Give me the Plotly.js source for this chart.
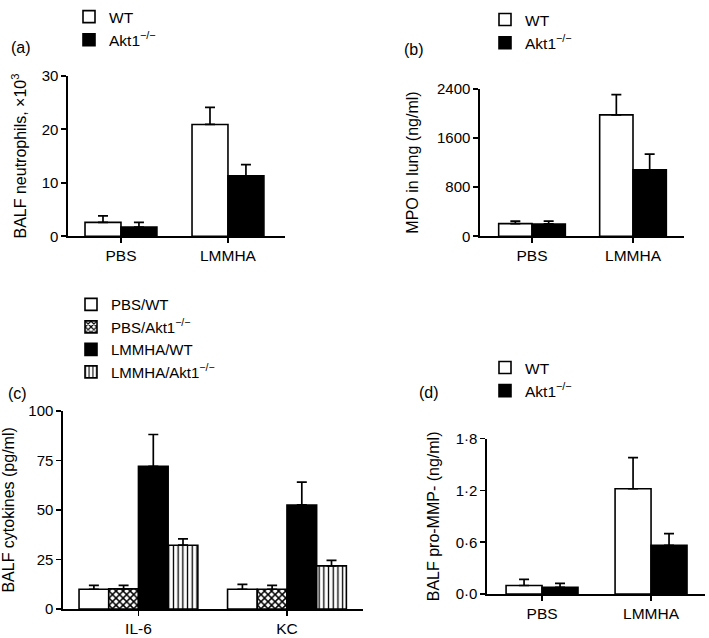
<!DOCTYPE html>
<html>
<head>
<meta charset="utf-8">
<script src="https://cdn.plot.ly/plotly-3.0.1.min.js"></script>
<style>html,body{margin:0;padding:0;background:#fff;}#chart{width:709px;height:638px;}</style>
</head>
<body>
<div id="chart"></div>
<script>
// ---- Data ----
const treatments = ["PBS", "LMMHA"];
const cytokines = ["IL-6", "KC"];

// (a) BALF neutrophils, x10^3
const neutWT = [2.6, 20.9];
const neutWTErr = [1.2, 3.2];
const neutKO = [1.7, 11.3];
const neutKOErr = [0.9, 2.1];

// (b) MPO in lung (ng/ml)
const mpoWT = [205, 1975];
const mpoWTErr = [40, 330];
const mpoKO = [200, 1080];
const mpoKOErr = [45, 255];

// (c) BALF cytokines (pg/ml)
const cytPbsWT = [10, 10];
const cytPbsWTErr = [2, 2.5];
const cytPbsKO = [10.2, 10];
const cytPbsKOErr = [1.8, 2];
const cytLmmhaWT = [72, 52.5];
const cytLmmhaWTErr = [16, 11.5];
const cytLmmhaKO = [32.2, 21.8];
const cytLmmhaKOErr = [3.2, 2.8];

// (d) BALF pro-MMP (ng/ml)
const mmpWT = [0.1, 1.22];
const mmpWTErr = [0.07, 0.36];
const mmpKO = [0.08, 0.565];
const mmpKOErr = [0.045, 0.135];

// tick labels
const tickA = [0, 10, 20, 30];
const tickB = [0, 800, 1600, 2400];
const tickC = [0, 25, 50, 75, 100];
const tickDvals = [0, 0.6, 1.2, 1.8];
const tickDtext = ["0·0", "0·6", "1·2", "1·8"];

// ---- Styling helpers ----
const FONT = "Liberation Sans, Arial, Helvetica, sans-serif";
const KO = "Akt1<sup>\u2212/\u2212</sup>";

function err(arr) {
  return {type: "data", array: arr, symmetric: false, arrayminus: arr.map(() => 0),
          color: "#000", thickness: 1.7, width: 5};
}
function bar(x, y, e, name, xa, ya, legend, offset, width, fill, pattern) {
  const marker = {color: fill, line: {color: "#000", width: 1.6}};
  if (pattern) marker.pattern = pattern;
  return {type: "bar", x: x, y: y, name: name, xaxis: xa, yaxis: ya, legend: legend,
          offset: offset, width: width, marker: marker, error_y: err(e),
          hoverinfo: "skip"};
}
const checker = {shape: "x", fgcolor: "#000", bgcolor: "#fff", size: 5, solidity: 0.5};
const vlines = {shape: "|", fgcolor: "#000", bgcolor: "#fff", size: 4.7, solidity: 0.28};

const wA = 0.336, wB = 0.33, wC = 0.2, wD = 0.33;

const data = [
  bar(treatments, neutWT, neutWTErr, "WT", "x", "y", "legend", -wA, wA, "#fff"),
  bar(treatments, neutKO, neutKOErr, KO, "x", "y", "legend", 0, wA, "#000"),
  bar(treatments, mpoWT, mpoWTErr, "WT", "x2", "y2", "legend2", -wB, wB, "#fff"),
  bar(treatments, mpoKO, mpoKOErr, KO, "x2", "y2", "legend2", 0, wB, "#000"),
  bar(cytokines, cytPbsWT, cytPbsWTErr, "PBS/WT", "x3", "y3", "legend3", -2 * wC, wC, "#fff"),
  bar(cytokines, cytPbsKO, cytPbsKOErr, "PBS/" + KO, "x3", "y3", "legend3", -wC, wC, "#fff", checker),
  bar(cytokines, cytLmmhaWT, cytLmmhaWTErr, "LMMHA/WT", "x3", "y3", "legend3", 0, wC, "#000"),
  bar(cytokines, cytLmmhaKO, cytLmmhaKOErr, "LMMHA/" + KO, "x3", "y3", "legend3", wC, wC, "#fff", vlines),
  bar(treatments, mmpWT, mmpWTErr, "WT", "x4", "y4", "legend4", -wD, wD, "#fff"),
  bar(treatments, mmpKO, mmpKOErr, KO, "x4", "y4", "legend4", 0, wD, "#000")
];

function xaxis(domain, range, anchor) {
  return {domain: domain, range: range, anchor: anchor, type: "category",
          showline: true, linecolor: "#000", linewidth: 1.6,
          ticks: "outside", ticklen: 5, tickwidth: 1.6, tickcolor: "#000",
          showgrid: false, zeroline: false, fixedrange: true,
          tickfont: {family: FONT, size: 15.5, color: "#000"}};
}
function yaxis(domain, range, anchor, vals, text, title, standoff) {
  const a = {domain: domain, range: range, anchor: anchor,
          showline: true, linecolor: "#000", linewidth: 1.6,
          ticks: "outside", ticklen: 5, tickwidth: 1.6, tickcolor: "#000",
          showgrid: false, zeroline: false, fixedrange: true,
          tickmode: "array", tickvals: vals,
          tickfont: {family: FONT, size: 15, color: "#000"},
          title: {text: title, standoff: standoff, font: {family: FONT, size: 16, color: "#000"}}};
  if (text) a.ticktext = text;
  return a;
}
function leg(x, y, size) {
  return {x: x, y: y, xanchor: "left", yanchor: "top", bgcolor: "rgba(0,0,0,0)",
          borderwidth: 0, font: {family: FONT, size: size, color: "#000"}, itemclick: false};
}
function label(t, x, y) {
  return {text: t, x: x, y: y, xref: "paper", yref: "paper", xanchor: "left", yanchor: "middle",
          showarrow: false, font: {family: FONT, size: 16, color: "#000"}};
}

const layout = {
  width: 709, height: 638,
  margin: {l: 0, r: 0, t: 0, b: 0},
  paper_bgcolor: "#fff", plot_bgcolor: "#fff",
  barmode: "overlay",
  showlegend: true,
  font: {family: FONT, color: "#000"},
  xaxis: xaxis([68 / 709, 285 / 709], [-0.495, 1.533], "y"),
  yaxis: yaxis([1 - 235 / 638, 1 - 74 / 638], [0, 30], "x", tickA, null,
               "BALF neutrophils, \u00d710<sup>3</sup>", 11),
  xaxis2: xaxis([480 / 709, 684 / 709], [-0.515, 1.505], "y2"),
  yaxis2: yaxis([1 - 235 / 638, 1 - 87 / 638], [0, 2400], "x2", tickB, null,
                "MPO in lung (ng/ml)", 14),
  xaxis3: xaxis([63 / 709, 363 / 709], [-0.508, 1.512], "y3"),
  yaxis3: yaxis([1 - 609 / 638, 1 - 410 / 638], [0, 100], "x3", tickC, null,
                "BALF cytokines (pg/ml)", 10),
  xaxis4: xaxis([487 / 709, 705 / 709], [-0.505, 1.495], "y4"),
  yaxis4: yaxis([1 - 594 / 638, 1 - 438 / 638], [0, 1.8], "x4", tickDvals, tickDtext,
                "BALF pro-MMP- (ng/ml)", 12),
  legend: leg(69 / 709, 1 + 2 / 638, 15.5),
  legend2: leg(485 / 709, 1 - 1 / 638, 15.5),
  legend3: leg(71 / 709, 1 - 287 / 638, 15),
  legend4: leg(485 / 709, 1 - 350 / 638, 15.5),
  annotations: [
    label("(a)", 9 / 709, 1 - 46 / 638),
    label("(b)", 402 / 709, 1 - 48 / 638),
    label("(c)", 6 / 709, 1 - 393 / 638),
    label("(d)", 417 / 709, 1 - 392 / 638)
  ]
};

Plotly.newPlot("chart", data, layout, {displayModeBar: false, staticPlot: true});
</script>
</body>
</html>
